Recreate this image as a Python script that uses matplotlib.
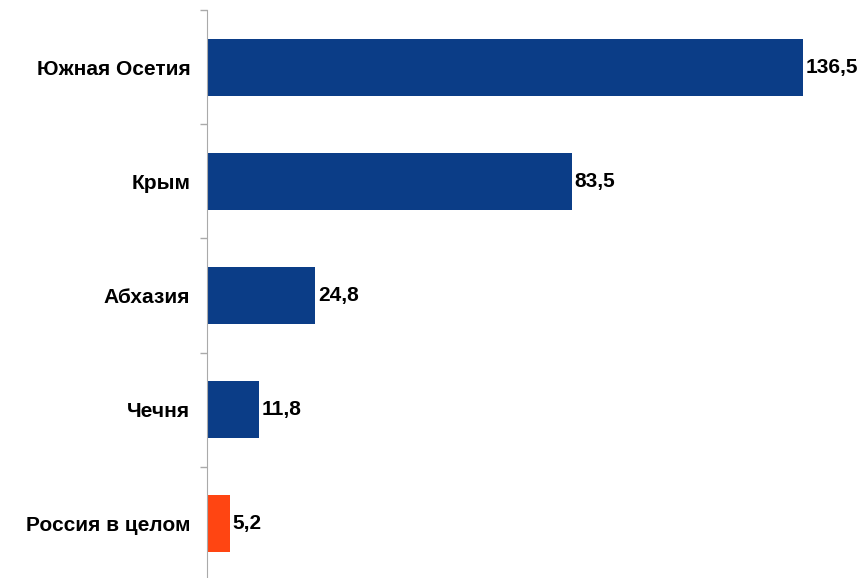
import matplotlib.pyplot as plt

regions = ['Южная Осетия', 'Крым', 'Абхазия', 'Чечня', 'Россия в целом']
values = [136.5, 83.5, 24.8, 11.8, 5.2]
labels = ['136,5', '83,5', '24,8', '11,8', '5,2']
colors = ['#0b3d87', '#0b3d87', '#0b3d87', '#0b3d87', '#ff4512']

plt.rcParams['font.family'] = ['Liberation Sans', 'DejaVu Sans']

fig = plt.figure(figsize=(8.67, 5.78), dpi=100)
ax = fig.add_axes([207 / 867, -3 / 578, 655 / 867, 571 / 578])

pos = list(range(len(regions)))
bars = ax.barh(pos, values, height=0.5, color=colors)
ax.set_ylim(len(regions) - 0.5, -0.5)
ax.set_xlim(0, 150)

for b, lab in zip(bars, labels):
    ax.text(b.get_width() + 0.6, b.get_y() + b.get_height() / 2, lab,
            va='center', ha='left', fontsize=15, fontweight='bold')

ax.set_yticks(pos)
ax.set_yticklabels(regions, fontsize=15, fontweight='bold')
ax.set_yticks([p - 0.5 for p in pos], minor=True)
ax.tick_params(axis='y', which='major', length=0, pad=12)
ax.tick_params(axis='y', which='minor', length=5, color='#aaaaaa', width=1)
ax.set_xticks([])
for s in ['top', 'right', 'bottom']:
    ax.spines[s].set_visible(False)
ax.spines['left'].set_color('#aaaaaa')

fig.savefig('out.png', dpi=100)
